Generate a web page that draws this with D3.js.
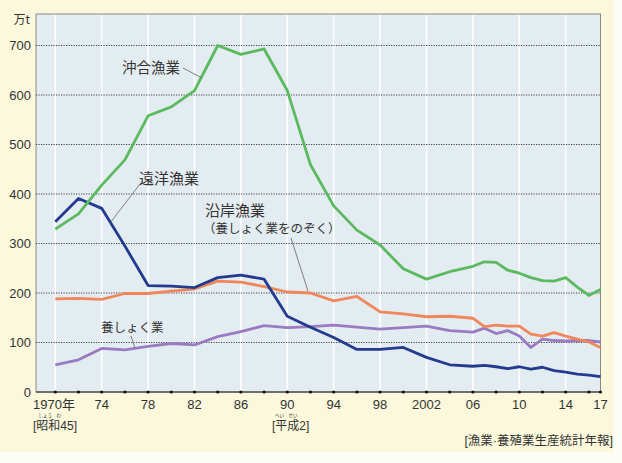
<!DOCTYPE html>
<html><head><meta charset="utf-8">
<script src="https://cdn.jsdelivr.net/npm/d3@7"></script>
<style>
html,body{margin:0;padding:0;background:#fdfdf8;}
svg{display:block;}
text{font-family:"Liberation Sans","Noto Sans CJK JP",sans-serif;fill:#333;}
.jp{font-family:"Noto Sans CJK JP",sans-serif;}
</style></head>
<body>
<svg id="c" width="622" height="463"></svg>
<script>
const years = [1970,1972,1974,1976,1978,1980,1982,1984,1986,1988,1990,1992,1994,1996,1998,2000,2002,2004,2006,2007,2008,2009,2010,2011,2012,2013,2014,2015,2016,2017];
const offshore = [329,360,418,469,558,576,609,700,682,693,609,459,376,327,297,249,228,243,254,263,262,246,240,231,225,224,231,212,195,207];
const distant = [344,391,371,295,215,214,211,231,236,228,153,131,110,86,86,90,70,55,52,54,51,47,51,46,50,43,40,36,34,31];
const coastal = [188,189,187,199,199,204,208,224,222,213,202,200,184,193,162,158,152,153,149,132,135,133,133,117,113,120,113,107,101,90];
const aquaculture = [55,65,88,85,92,98,95,112,122,134,130,132,135,131,127,130,133,124,121,129,118,124,113,90,107,104,103,104,104,101];
const yTicks = [0,100,200,300,400,500,600,700];
const xLabelYears = [1970,1974,1978,1982,1986,1990,1994,1998,2002,2006,2010,2014,2017];
const xLabels = ["1970年","74","78","82","86","90","94","98","2002","06","10","14","17"];
const dotYears = [1970,1972,1974,1976,1978,1980,1982,1984,1986,1988,1990,1992,1994,1996,1998,2000,2002,2004,2006,2008,2010,2012,2014,2016,2017];
const gridYears = [1970,1974,1978,1982,1986,1990,1994,1998,2002,2006,2010,2014];

const svg = d3.select("#c");
const x = d3.scaleLinear().domain([1970,2017]).range([55.3,600.5]);
const y = d3.scaleLinear().domain([0,700]).range([392,45.5]);
const plotL = 36, plotT = 14, plotR = 600.5, plotB = 392;

svg.append("rect").attr("x",0).attr("y",0).attr("width",614).attr("height",452).attr("fill","#fbf8dc");
svg.append("rect").attr("x",plotL).attr("y",plotT).attr("width",plotR-plotL).attr("height",plotB-plotT)
  .attr("fill","#e3ecf0").attr("stroke","#888").attr("stroke-width",1);

// vertical white grid
svg.append("g").selectAll("line").data(gridYears).join("line")
  .attr("x1",d=>x(d)).attr("x2",d=>x(d)).attr("y1",plotT+1).attr("y2",plotB)
  .attr("stroke","#fff").attr("stroke-width",1.6);

// horizontal dotted grid
svg.append("g").selectAll("line").data(yTicks.filter(d=>d>0)).join("line")
  .attr("x1",plotL).attr("x2",plotR).attr("y1",d=>y(d)).attr("y2",d=>y(d))
  .attr("stroke","#444").attr("stroke-width",1).attr("stroke-dasharray","1.2,1.3");

// axis line
svg.append("line").attr("x1",plotL).attr("x2",plotR).attr("y1",plotB).attr("y2",plotB).attr("stroke","#555").attr("stroke-width",1.3);
svg.append("g").selectAll("circle").data(dotYears).join("circle")
  .attr("cx",d=>x(d)).attr("cy",plotB).attr("r",1.6).attr("fill","#111");

// y labels
svg.append("g").selectAll("text").data(yTicks).join("text")
  .attr("x",31).attr("y",d=>y(d)+4.6).attr("text-anchor","end").attr("font-size",13).text(d=>d);
svg.append("text").attr("x",30).attr("y",24).attr("text-anchor","end").attr("font-size",12).attr("class","jp").text("万t");

// x labels
svg.append("g").selectAll("text").data(xLabelYears).join("text")
  .attr("x",(d,i)=> i===0 ? 33 : x(d)).attr("y",408.5)
  .attr("text-anchor",(d,i)=> i===0 ? "start" : "middle").attr("font-size",13)
  .text((d,i)=>xLabels[i]);
svg.append("text").attr("x",33).attr("y",430).attr("font-size",12).text("[昭和45]");
svg.append("text").attr("x",38.5).attr("y",416.5).attr("font-size",4.5).attr("class","jp").text("しょう　わ");
svg.append("text").attr("x",272).attr("y",430).attr("font-size",12).text("[平成2]");
svg.append("text").attr("x",275).attr("y",416.5).attr("font-size",4.5).attr("class","jp").text("へい　せい");
svg.append("text").attr("x",613).attr("y",445).attr("text-anchor","end").attr("font-size",12.5).text("[漁業·養殖業生産統計年報]");

// lines
const line = d3.line().x((d,i)=>x(years[i])).y(d=>y(d));
const series = [
  {v:aquaculture,c:"#9a7bc2"},
  {v:coastal,c:"#ef875b"},
  {v:distant,c:"#233b8f"},
  {v:offshore,c:"#5bb95f"}
];
series.forEach(s=>{
  svg.append("path").datum(s.v).attr("d",line).attr("fill","none")
    .attr("stroke",s.c).attr("stroke-width",2.8).attr("stroke-linejoin","round");
});

// annotations
const ann = svg.append("g");
function leader(x1,y1,x2,y2){
  ann.append("line").attr("x1",x1).attr("y1",y1).attr("x2",x2).attr("y2",y2).attr("stroke","#666").attr("stroke-width",0.8);
}
ann.append("text").attr("class","jp").attr("x",122).attr("y",73).attr("font-size",14.5).text("沖合漁業");
leader(183,68,202,78);
ann.append("text").attr("class","jp").attr("x",139).attr("y",184).attr("font-size",15).text("遠洋漁業");
leader(140,184,110,223);
ann.append("text").attr("class","jp").attr("x",205).attr("y",216).attr("font-size",15).text("沿岸漁業");
ann.append("text").attr("class","jp").attr("x",203).attr("y",233).attr("font-size",12.5).text("（養しょく業をのぞく）");
leader(291,238,308,291);
ann.append("text").attr("class","jp").attr("x",101).attr("y",332).attr("font-size",12.5).text("養しょく業");
leader(131,336,135,348);
</script>
</body></html>
